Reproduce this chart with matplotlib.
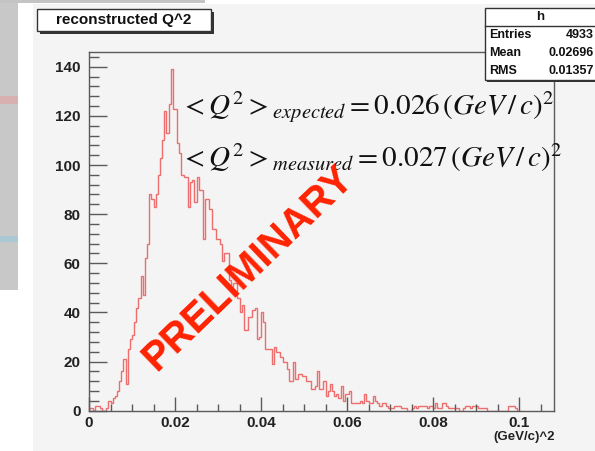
import numpy as np
import matplotlib.pyplot as plt
from matplotlib.patches import Rectangle
from matplotlib.ticker import MultipleLocator

# histogram of reconstructed Q^2, 200 bins of 0.0005 (GeV/c)^2
bin_width = 0.0005
counts = [1, 1, 0, 2, 2, 1, 0, 0, 1,
          4, 3, 5, 6, 8, 12, 16, 21, 11, 25, 29, 31, 36, 42, 46,
          55, 47, 62, 68, 88, 86, 83, 88,
          96, 103, 110, 122, 113, 125, 139, 123, 123,
          109, 105, 96, 95, 95, 83, 93, 94, 85, 95,
          90, 90, 70, 86, 86, 82, 74, 74, 70, 70,
          68, 61, 64, 64, 53, 50, 52, 52, 46, 40,
          43, 33, 33, 38, 38, 41, 42, 29, 30, 40,
          36, 25, 25, 25, 19, 26, 24, 24, 22, 20,
          20, 17, 12, 12, 20, 13, 15, 15, 14, 14,
          12, 12, 9, 9, 10, 16, 9, 9, 12, 6,
          8, 11, 8, 6, 7, 5, 10, 4, 7, 7,
          8, 3, 3, 3, 3, 4, 3, 7, 4, 3,
          3, 6, 4, 3, 2, 3, 3, 2, 1, 1,
          1, 2, 2, 2, 1, 1, 1, 0, 0, 1,
          2, 1, 2, 2, 2, 2, 1, 2, 2, 1,
          3, 1, 1, 3, 3, 2, 1, 1, 1, 1,
          1, 0, 0, 1, 2, 2, 1, 2, 2, 2,
          1, 1, 1, 1, 0, 0, 0, 0, 0, 0,
          0, 0, 0, 0, 2, 2, 2, 1, 0, 0]
edges = np.arange(len(counts) + 1) * bin_width

xticks = [0, 0.02, 0.04, 0.06, 0.08, 0.1]
xtick_labels = ["0", "0.02", "0.04", "0.06", "0.08", "0.1"]
yticks = [0, 20, 40, 60, 80, 100, 120, 140]

stats_names = ["Entries", "Mean", "RMS"]
stats_values = ["4933", "0.02696", "0.01357"]

W, H = 595, 451
fig = plt.figure(figsize=(W / 100, H / 100), dpi=100)
fig.patch.set_facecolor("white")

def px_rect(x0, y0, x1, y1, **kw):
    # rectangle in pixel coords (origin top-left) -> figure coords
    return Rectangle((x0 / W, 1 - y1 / H), (x1 - x0) / W, (y1 - y0) / H,
                     transform=fig.transFigure, **kw)

canvas_col = "#f4f4f4"
# screenshot bits around the canvas (behind the axes)
for r, c in [((0, 0, 205, 3), "#c4c4c4"), ((0, 3, 18, 290), "#c8c8c8"),
             ((0, 96, 18, 104), "#d9b0b0"), ((0, 236, 18, 242), "#a9c8d4"),
             ((33, 4, 595, 451), canvas_col)]:
    fig.patches.append(px_rect(*r, facecolor=c, edgecolor="none", zorder=-10))

ax = fig.add_axes([89 / W, 1 - 410.7 / H, (554 - 89) / W, (410.7 - 52) / H])
ax.set_facecolor(canvas_col)
ax.stairs(counts, edges, color="#ee6e6e", lw=1.0)

ax.set_xlim(0, 0.1081)
ax.set_ylim(0, 146)
ax.set_xticks(xticks)
ax.set_xticklabels(xtick_labels)
ax.set_yticks(yticks)
ax.xaxis.set_minor_locator(MultipleLocator(0.005))
ax.yaxis.set_minor_locator(MultipleLocator(4))

for s in ax.spines.values():
    s.set_color("#5a5a5a")
    s.set_linewidth(1.0)
ax.tick_params(axis="y", which="major", direction="in", length=13, width=1,
               color="#5a5a5a", pad=6)
ax.tick_params(axis="y", which="minor", direction="in", length=7, width=1,
               color="#5a5a5a")
ax.tick_params(axis="x", which="major", direction="in", length=10, width=1,
               color="#5a5a5a", pad=4)
ax.tick_params(axis="x", which="minor", direction="in", length=5, width=1,
               color="#5a5a5a")
for lab in ax.get_xticklabels() + ax.get_yticklabels():
    lab.set_fontfamily("Liberation Sans")
    lab.set_fontweight("bold")
    lab.set_fontsize(11)
    lab.set_color("#222222")

plt.rcParams["mathtext.fontset"] = "stix"
ax.text(0.196, 0.845, r"$<Q^2>_{expected}=0.026\,(GeV\,/\,c)^2$",
        transform=ax.transAxes, fontsize=21, color="#111111", va="center")
ax.text(0.196, 0.705, r"$<Q^2>_{measured}=0.027\,(GeV\,/\,c)^2$",
        transform=ax.transAxes, fontsize=21, color="#111111", va="center")

fig.text(248 / W, 1 - 268 / H, "PRELIMINARY", rotation=44, color="#ff2200",
         fontsize=29, fontweight="bold", family="Liberation Sans",
         ha="center", va="center")

fig.text(555 / W, 1 - 437 / H, "(GeV/c)^2", ha="right", va="center",
         fontsize=9.5, fontweight="bold", family="Liberation Sans", color="#222222")

# title box
fig.patches.append(px_rect(40, 12, 214, 34, facecolor="#333333", edgecolor="none"))
fig.patches.append(px_rect(37, 9, 211, 31, facecolor="white", edgecolor="#333333", lw=1))
fig.text(124 / W, 1 - 20 / H, "reconstructed Q^2", ha="center", va="center",
         fontsize=11, fontweight="bold", family="Liberation Sans", color="#111111")

# stats box
fig.patches.append(px_rect(487, 10, 598, 82, facecolor="#333333", edgecolor="none"))
fig.patches.append(px_rect(485, 8, 596, 80, facecolor="white", edgecolor="#333333", lw=1))
fig.lines.append(plt.Line2D([485 / W, 596 / W], [1 - 26 / H, 1 - 26 / H],
                            transform=fig.transFigure, color="#333333", lw=1))
fig.text(540 / W, 1 - 17 / H, "h", ha="center", va="center", fontsize=9.5,
         fontweight="bold", family="Liberation Sans", color="#111111")
for k in range(3):
    y = 1 - (35 + 18 * k) / H
    fig.text(489 / W, y, stats_names[k], ha="left", va="center", fontsize=9,
             fontweight="bold", family="Liberation Sans", color="#111111")
    fig.text(594 / W, y, stats_values[k], ha="right", va="center", fontsize=9,
             fontweight="bold", family="Liberation Sans", color="#111111")

fig.savefig("out.png", dpi=100)
